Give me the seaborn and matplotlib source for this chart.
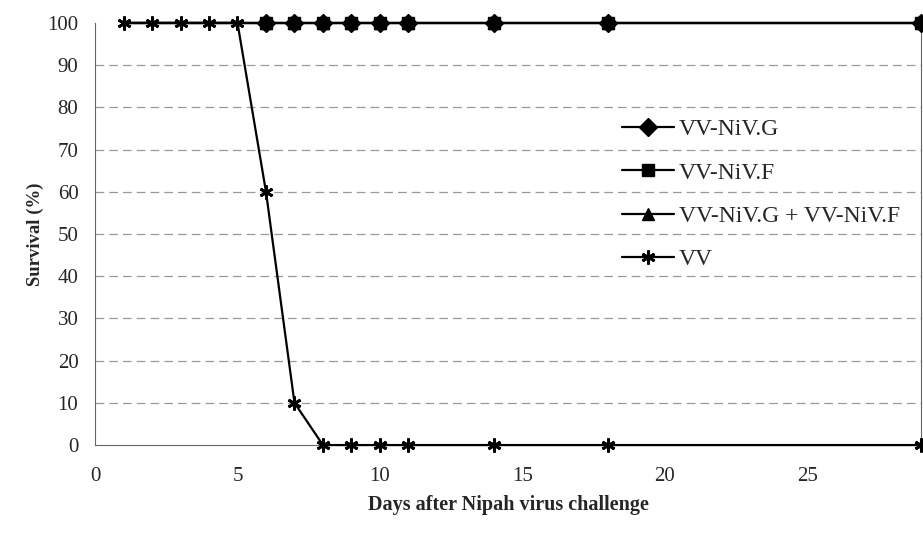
import pandas as pd
import matplotlib
matplotlib.use("Agg")
import matplotlib.pyplot as plt
import seaborn as sns

days = [1, 2, 3, 4, 5, 6, 7, 8, 9, 10, 11, 14, 18, 29]
vv_niv_g = [100] * 14
vv_niv_f = [100] * 14
vv_niv_gf = [100] * 14
vv = [100, 100, 100, 100, 100, 60, 10, 0, 0, 0, 0, 0, 0, 0]

series = {
    "VV-NiV.G": (vv_niv_g, "D", 9),
    "VV-NiV.F": (vv_niv_f, "s", 8),
    "VV-NiV.G + VV-NiV.F": (vv_niv_gf, "^", 9),
    "VV": (vv, (6, 2, 0), 10),
}
draw_order = ["VV-NiV.F", "VV-NiV.G + VV-NiV.F", "VV-NiV.G", "VV"]
legend_order = ["VV-NiV.G", "VV-NiV.F", "VV-NiV.G + VV-NiV.F", "VV"]

sns.set_style("white")
plt.rcParams["font.family"] = ["Liberation Serif", "DejaVu Serif"]

fig = plt.figure(figsize=(9.23, 5.33), dpi=100)
ax = fig.add_axes([0.103, 0.165, 0.895, 0.792])

for name in draw_order:
    vals, mk, ms = series[name]
    df = pd.DataFrame({"day": days, "survival": vals})
    # the VV markers hide the vaccine markers where the curves overlap (days 1-5)
    every = None if name == "VV" else slice(5, None)
    sns.lineplot(data=df, x="day", y="survival", ax=ax, color="black",
                 marker=mk, markersize=ms, markeredgewidth=2 if name == "VV" else 1,
                 markeredgecolor="black", linewidth=1.6, label=name, zorder=3,
                 clip_on=False, markevery=every)

ax.set_xlim(0, 29)
ax.set_ylim(0, 100)
ax.set_xticks(range(0, 30, 5))
ax.set_yticks(range(0, 101, 10))
ax.tick_params(axis="both", labelsize=15, length=8, color="#555555", width=0.8)
ax.tick_params(axis="y", direction="inout", pad=8)
ax.tick_params(axis="x", direction="in", pad=16)
for y in range(10, 100, 10):
    ax.axhline(y, color="#999999", linestyle=(0, (7, 4)), linewidth=0.9, zorder=1)

ax.spines["top"].set_visible(False)
for s in ["left", "bottom", "right"]:
    ax.spines[s].set_color("#666666")
    ax.spines[s].set_linewidth(0.8)

ax.set_xlabel("Days after Nipah virus challenge", fontsize=14.5, fontweight="bold", labelpad=6)
ax.set_ylabel("Survival (%)", fontsize=13.5, fontweight="bold", labelpad=2)

handles, labels = ax.get_legend_handles_labels()
hmap = dict(zip(labels, handles))
leg = ax.legend([hmap[n] for n in legend_order], legend_order, frameon=False, fontsize=17,
                loc="upper left", bbox_to_anchor=(0.627, 0.795), handlelength=2.2,
                handletextpad=0.2, labelspacing=0.92, borderaxespad=0)
for h in leg.legend_handles:
    h.set_markevery([1])

fig.savefig("out.png", dpi=100)
